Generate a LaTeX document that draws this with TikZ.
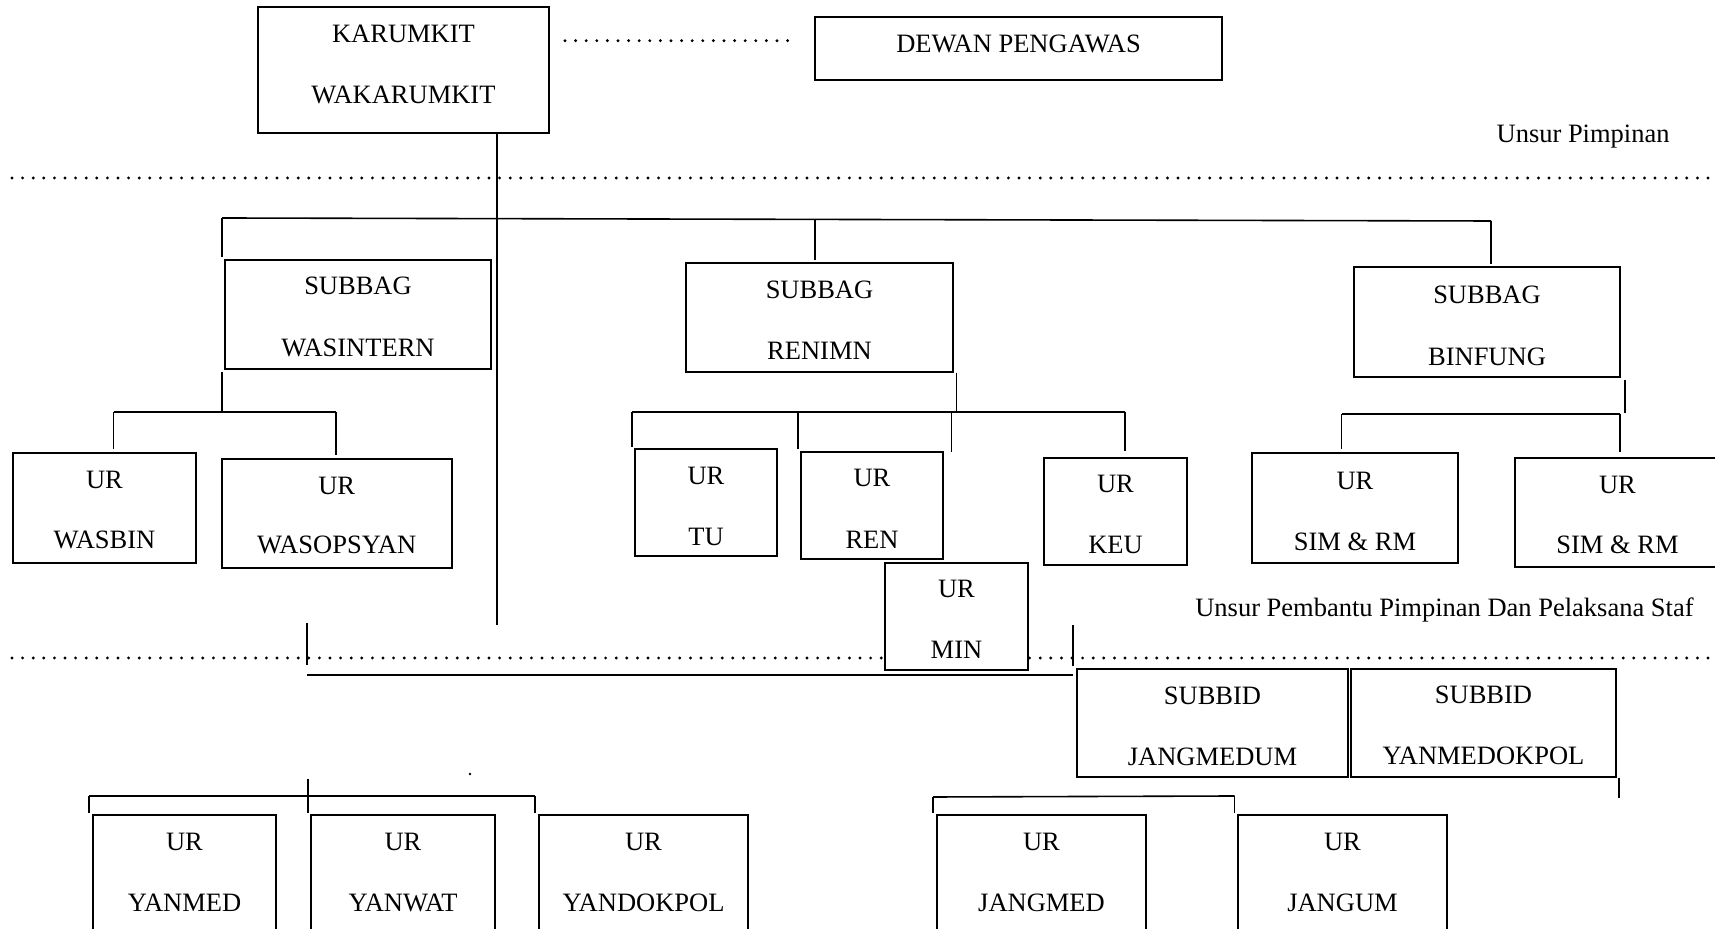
\documentclass[tikz,border=0pt]{standalone}
\usepackage{fontspec}
\setmainfont{Liberation Serif}
\begin{document}
\begin{tikzpicture}[x=0.5pt,y=-0.5pt,
  obox/.style={draw, fill=white, line width=1pt, inner sep=0pt, outer sep=0pt},
  otxt/.style={anchor=base, inner sep=0pt, font=\fontsize{13.25}{15}\selectfont},
  conn/.style={line width=0.8pt},
  dotline/.style={line width=1.6pt, line cap=round, dash pattern=on 0pt off 5.3pt}]
\useasboundingbox (0,0) rectangle (1715,929);
\newcommand\orgbox[9]{%
  \node[obox, minimum width={(#4-#2)*0.5pt}, minimum height={(#5-#3)*0.5pt}] (#1) at ({(#2+#4)/2},{(#3+#5)/2}) {};
  \node[otxt] (#1-a) at ({(#2+#4)/2},#7) {#6};
  \node[otxt] (#1-b) at ({(#2+#4)/2},#9) {#8};}

% dotted separators
\coordinate (d1a) at (565,40.7);  \coordinate (d1b) at (797,40.7);
\coordinate (d2a) at (12,178);  \coordinate (d2b) at (1715,178);
\coordinate (d3a) at (12,658);  \coordinate (d3b) at (1715,658);
\draw[dotline] (d1a) -- (d1b);
\draw[dotline] (d2a) -- (d2b);
\draw[dotline] (d3a) -- (d3b);

% connector coordinates
\coordinate (k1) at (497,133);   \coordinate (k2) at (497,625);
\coordinate (b1) at (222,218);   \coordinate (b2) at (1491,221);
\coordinate (b1d) at (222,257);  \coordinate (bm) at (815,219.4); \coordinate (bmd) at (815,260);
\coordinate (b2d) at (1491,264);
\coordinate (w0) at (222,372);   \coordinate (w1) at (222,412);
\coordinate (wl) at (113.5,412); \coordinate (wld) at (113.5,449);
\coordinate (wr) at (336,412);   \coordinate (wrd) at (336,455);
\coordinate (r0) at (956.5,373); \coordinate (r1) at (956.5,412);
\coordinate (rl) at (632,412);   \coordinate (rld) at (632,447);
\coordinate (rm1) at (798,412);  \coordinate (rm1d) at (798,449);
\coordinate (rm2) at (951.5,412);\coordinate (rm2d) at (951.5,452);
\coordinate (rr) at (1125,412);  \coordinate (rrd) at (1125,451);
\coordinate (f0) at (1625,380);  \coordinate (f1) at (1625,413);
\coordinate (fl) at (1341.6,414);\coordinate (fld) at (1341.6,449);
\coordinate (fr) at (1620,414);  \coordinate (frd) at (1620,452);
\coordinate (m1) at (307,623);   \coordinate (m1d) at (307,665);
\coordinate (m2) at (1073,625);  \coordinate (m2d) at (1073,666);
\coordinate (ml) at (307,675);   \coordinate (mr) at (1073,675);
\coordinate (y0) at (1619,778);  \coordinate (y1) at (1619,798);
\coordinate (p0) at (308,779);   \coordinate (p1) at (308,813);
\coordinate (pl) at (89,796);    \coordinate (pld) at (89,813);
\coordinate (pr) at (535,796);   \coordinate (prd) at (535,813);
\coordinate (q1) at (933,797);   \coordinate (q1d) at (933,813);
\coordinate (q2) at (1234.6,796);\coordinate (q2d) at (1234.6,813);

\draw[conn] (k1) -- (k2);
\draw[conn] (b1) -- (b2);
\draw[conn] (b1) -- (b1d);
\draw[conn] (bm) -- (bmd);
\draw[conn] (b2) -- (b2d);
\draw[conn] (w0) -- (w1);
\draw[conn] (wl) -- (wr);
\draw[conn] (wl) -- (wld);
\draw[conn] (wr) -- (wrd);
\draw[conn] (r0) -- (r1);
\draw[conn] (rl) -- (rr);
\draw[conn] (rl) -- (rld);
\draw[conn] (rm1) -- (rm1d);
\draw[conn] (rm2) -- (rm2d);
\draw[conn] (rr) -- (rrd);
\draw[conn] (f0) -- (f1);
\draw[conn] (fl) -- (fr);
\draw[conn] (fl) -- (fld);
\draw[conn] (fr) -- (frd);
\draw[conn] (m1) -- (m1d);
\draw[conn] (m2) -- (m2d);
\draw[conn] (ml) -- (mr);
\draw[conn] (y0) -- (y1);
\draw[conn] (p0) -- (p1);
\draw[conn] (pl) -- (pr);
\draw[conn] (pl) -- (pld);
\draw[conn] (pr) -- (prd);
\draw[conn] (q1) -- (q2);
\draw[conn] (q1) -- (q1d);
\draw[conn] (q2) -- (q2d);
\fill (470,774) circle[radius=1.3];

% boxes
\orgbox{kar}{258}{7}{549}{133}{KARUMKIT}{42.7}{WAKARUMKIT}{104}
\orgbox{dewan}{815}{17}{1222}{80}{DEWAN PENGAWAS}{52.7}{}{52.7}
\orgbox{wasintern}{225}{260}{491}{369}{SUBBAG}{295}{WASINTERN}{356.7}
\orgbox{renimn}{686}{263}{953}{372}{SUBBAG}{298.3}{RENIMN}{360}
\orgbox{binfung}{1354}{267}{1620}{377}{SUBBAG}{303.3}{BINFUNG}{365.7}
\orgbox{wasbin}{13}{453}{196}{563}{UR}{489}{WASBIN}{549}
\orgbox{wasop}{222}{459}{451.5}{568}{UR}{494.3}{WASOPSYAN}{554}
\orgbox{tu}{635}{449}{777}{556}{UR}{484.3}{TU}{545.7}
\orgbox{ren}{801}{452}{943}{559}{UR}{487}{REN}{548.3}
\orgbox{keu}{1044}{458}{1187}{565}{UR}{492.3}{KEU}{553.3}
\orgbox{min}{885}{563}{1028}{670}{UR}{597.7}{MIN}{659}
\orgbox{simA}{1252}{453}{1458}{563}{UR}{489.3}{SIM \& RM}{550.7}
\orgbox{simB}{1515}{458}{1720}{567}{UR}{493.3}{SIM \& RM}{553.3}
\orgbox{jangmedum}{1077}{669}{1348}{777}{SUBBID}{704.3}{JANGMEDUM}{765.7}
\orgbox{yanmedokpol}{1351}{669}{1616}{777}{SUBBID}{703.3}{YANMEDOKPOL}{764.3}
\orgbox{yanmed}{93}{815}{276}{945}{UR}{850.7}{YANMED}{911.7}
\orgbox{yanwat}{311}{815}{495}{945}{UR}{850.7}{YANWAT}{911.7}
\orgbox{yandokpol}{539}{815}{748}{945}{UR}{850.7}{YANDOKPOL}{911.7}
\orgbox{jangmed}{937}{815}{1146}{945}{UR}{850.7}{JANGMED}{911.7}
\orgbox{jangum}{1238}{815}{1447}{945}{UR}{850.7}{JANGUM}{911.7}

% section labels
\node[otxt, anchor=base east] (lbl1) at (1670,143) {Unsur Pimpinan};
\node[otxt, anchor=base east] (lbl2) at (1694,617) {Unsur Pembantu Pimpinan Dan Pelaksana Staf};
\end{tikzpicture}
\end{document}
